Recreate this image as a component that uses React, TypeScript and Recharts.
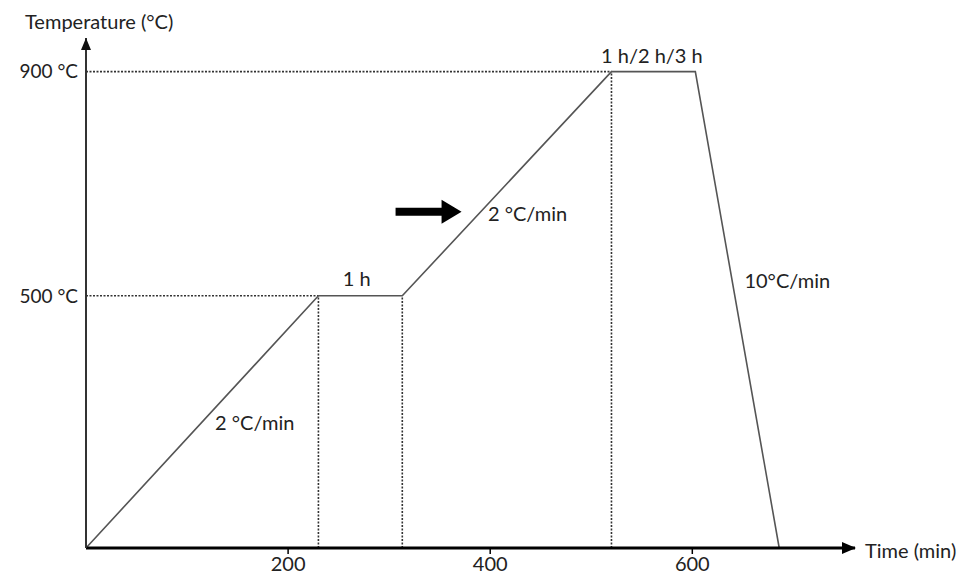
import React from 'react';
import { LineChart, Line, XAxis, YAxis, ReferenceLine, ReferenceDot } from 'recharts';

// heating programme (time in min, temperature in °C)
const stepTimes = [0, 230, 313, 520, 603, 686];
const stepTemps = [50, 500, 500, 900, 900, 50];

const xTicks = [200, 400, 600];
const yTicks = [500, 900];
const yTickLabels: Record<number, string> = { 500: '500 °C', 900: '900 °C' };

// annotations along the curve
const noteTexts = ['1 h', '2 °C/min', '2 °C/min', '1 h/2 h/3 h', '10°C/min'];
const noteTimes = [268, 167, 437, 560, 694];
const noteTemps = [532, 275, 648, 930, 528];

// big black arrow
const arrowTime = 339;
const arrowTemp = 650;

// dotted guide lines: [time, temp] of the corners
const guideTimes = [230, 313, 520];
const guideTemps = [500, 500, 900];

const data = stepTimes.map((t, i) => ({ time: t, temp: stepTemps[i] }));

const font = 'Lato, "Open Sans", sans-serif';
const textColor = '#222';
const fs = 20;

export default function App() {
  return (
    <div style={{ position: 'absolute', left: 0, top: 0, background: '#fff' }}>
      <LineChart width={968} height={578} data={data} margin={{ top: 38, right: 113, bottom: 0, left: 0 }}>
        <defs>
          <marker id="arrX" markerWidth="14" markerHeight="12" refX="13" refY="6" orient="auto" markerUnits="userSpaceOnUse">
            <path d="M0,0 L14,6 L0,12 z" fill="#000" />
          </marker>
          <marker id="arrY" markerWidth="12" markerHeight="12" refX="12" refY="5" orient="auto-start-reverse" markerUnits="userSpaceOnUse">
            <path d="M0,0 L12,5 L0,10 z" fill="#111" />
          </marker>
        </defs>
        <XAxis
          type="number"
          dataKey="time"
          domain={[0, 761]}
          ticks={xTicks}
          height={30}
          tickSize={6}
          tickMargin={3}
          axisLine={{ stroke: '#000', strokeWidth: 3, markerEnd: 'url(#arrX)' } as any}
          tickLine={{ stroke: '#000', strokeWidth: 1.5 }}
          tick={{ fill: textColor, fontSize: fs, fontFamily: font }}
          label={{
            content: (p: any) => (
              <text x={p.viewBox.x + p.viewBox.width + 10} y={p.viewBox.y + 2} fill={textColor}
                fontSize={fs} fontFamily={font} dominantBaseline="central">Time (min)</text>
            ),
          }}
        />
        <YAxis
          type="number"
          domain={[50, 960]}
          ticks={yTicks}
          width={86}
          tickLine={false}
          axisLine={{ stroke: '#333', strokeWidth: 2, markerStart: 'url(#arrY)' } as any}
          tickFormatter={(v: number) => yTickLabels[v] ?? ''}
          tick={{ fill: textColor, fontSize: 19, fontFamily: font }}
          label={{
            content: (p: any) => (
              <text x={p.viewBox.x + 25} y={21} fill={textColor}
                fontSize={fs} fontFamily={font} dominantBaseline="central">Temperature (°C)</text>
            ),
          }}
        />

        {guideTimes.map((t, i) => (
          <ReferenceLine key={'v' + i} segment={[{ x: t, y: 50 }, { x: t, y: guideTemps[i] }]}
            stroke="#333" strokeWidth={1.6} strokeDasharray="2 1.5" />
        ))}
        <ReferenceLine segment={[{ x: 0, y: 500 }, { x: 230, y: 500 }]} stroke="#333" strokeWidth={1.6} strokeDasharray="2 1.5" />
        <ReferenceLine segment={[{ x: 0, y: 900 }, { x: 520, y: 900 }]} stroke="#333" strokeWidth={1.6} strokeDasharray="2 1.5" />

        <Line type="linear" dataKey="temp" stroke="#555" strokeWidth={1.6} dot={false} isAnimationActive={false} />

        {noteTexts.map((txt, i) => (
          <ReferenceDot key={'n' + i} x={noteTimes[i]} y={noteTemps[i]} r={0} ifOverflow="visible"
            shape={(p: any) => (
              <text x={p.cx} y={p.cy} textAnchor="middle" dominantBaseline="central"
                fill={textColor} fontSize={fs} fontFamily={font}>{txt}</text>
            )}
          />
        ))}
        <ReferenceDot x={arrowTime} y={arrowTemp} r={0} ifOverflow="visible"
          shape={(p: any) => (
            <path
              d={`M${p.cx - 33},${p.cy - 4} L${p.cx + 13},${p.cy - 4} L${p.cx + 13},${p.cy - 12} L${p.cx + 33},${p.cy} L${p.cx + 13},${p.cy + 12} L${p.cx + 13},${p.cy + 4} L${p.cx - 33},${p.cy + 4} z`}
              fill="#000"
            />
          )}
        />
      </LineChart>
    </div>
  );
}
